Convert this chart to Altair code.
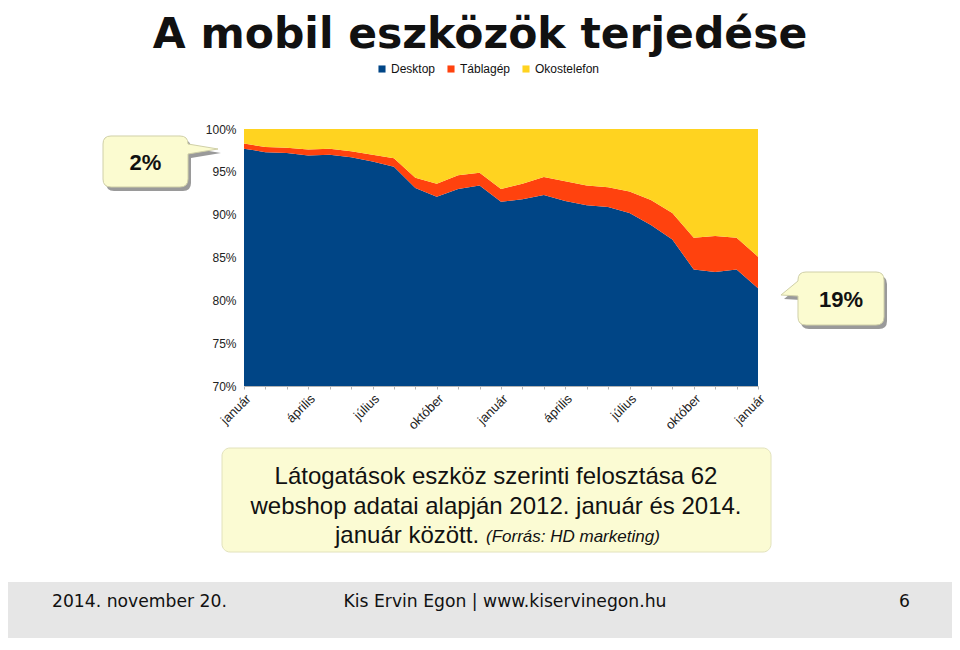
import altair as alt
import pandas as pd

# ---------------- data ----------------
month_names = ["január", "február", "március", "április", "május", "június",
               "július", "augusztus", "szeptember", "október", "november", "december"]
months = month_names * 2 + ["január"]          # 2012-01 .. 2014-01
tick_every = 3
series = ["Desktop", "Táblagép", "Okostelefon"]
colors = ["#004586", "#ff420e", "#ffd320"]

desktop = [97.7, 97.3, 97.2, 96.9, 97.0, 96.7, 96.2, 95.6, 93.1, 92.1, 93.0, 93.4, 91.5,
           91.8, 92.3, 91.6, 91.1, 90.9, 90.2, 88.8, 87.1, 83.6, 83.3, 83.6, 81.4]
tablet = [0.6, 0.6, 0.6, 0.7, 0.7, 0.7, 0.8, 1.0, 1.2, 1.5, 1.6, 1.5, 1.5,
          1.8, 2.1, 2.3, 2.3, 2.3, 2.5, 2.9, 3.1, 3.7, 4.2, 3.7, 3.7]
smartphone = [1.7, 2.1, 2.2, 2.4, 2.3, 2.6, 3.0, 3.4, 5.7, 6.4, 5.4, 5.1, 7.0,
              6.4, 5.6, 6.1, 6.6, 6.8, 7.3, 8.3, 9.8, 12.7, 12.5, 12.7, 14.9]
y_ticks = [70, 75, 80, 85, 90, 95, 100]

title_text = "A mobil eszközök terjedése"
callout_left = "2%"
callout_right = "19%"
caption_lines = ["Látogatások eszköz szerinti felosztása 62",
                 "webshop adatai alapján 2012. január és 2014."]
caption_last = "január között."
caption_source = "(Forrás: HD marketing)"
footer_left = "2014. november 20."
footer_mid = "Kis Ervin Egon | www.kiservinegon.hu"
footer_right = "6"

rows = []
for i in range(len(months)):
    for k, (name, vals) in enumerate(zip(series, [desktop, tablet, smartphone])):
        rows.append({"idx": i, "month": months[i], "series": name, "value": vals[i], "ord": k})
df = pd.DataFrame(rows)

labels = [m if i % tick_every == 0 else "" for i, m in enumerate(months)]
label_expr = "[" + ",".join("'" + s + "'" for s in labels) + "][datum.value]"

# ---------------- layout (page coords -> plot coords) ----------------
OX, OY = 244, 129      # plot origin on page
W, H = 514, 257
TOTAL_W, TOTAL_H = 944, 630
PAD_L, PAD_T = OX - 8, OY - 8


def px(x):
    return x - OX


def py(y):
    return y - OY


one = alt.Data(values=[{"a": 1}])


def callout_path(box, r, base, tip, side, center, half):
    x0, y0, x1, y1 = box
    cx, cy = center
    f = lambda x, y: f"{(x - cx) / half:.4f},{(y - cy) / half:.4f}"
    b0, b1 = base
    if side == "right":
        d = (f"M{f(x0 + r, y0)} L{f(x1 - r, y0)} Q{f(x1, y0)} {f(x1, y0 + r)} "
             f"L{f(x1, b0)} L{f(*tip)} L{f(x1, b1)} L{f(x1, y1 - r)} Q{f(x1, y1)} {f(x1 - r, y1)} "
             f"L{f(x0 + r, y1)} Q{f(x0, y1)} {f(x0, y1 - r)} L{f(x0, y0 + r)} Q{f(x0, y0)} {f(x0 + r, y0)} Z")
    else:
        d = (f"M{f(x0 + r, y0)} L{f(x1 - r, y0)} Q{f(x1, y0)} {f(x1, y0 + r)} "
             f"L{f(x1, y1 - r)} Q{f(x1, y1)} {f(x1 - r, y1)} L{f(x0 + r, y1)} Q{f(x0, y1)} {f(x0, y1 - r)} "
             f"L{f(x0, b1)} L{f(*tip)} L{f(x0, b0)} L{f(x0, y0 + r)} Q{f(x0, y0)} {f(x0 + r, y0)} Z")
    return d


def callout_layers(box, base, tip, side, center, half, text):
    path = callout_path(box, 8, base, tip, side, center, half)
    size = (2 * half) ** 2
    cx, cy = center
    shadow = alt.Chart(one).mark_point(shape=path, filled=True, fill="#9a9a9a", opacity=1,
                                       size=size, strokeWidth=0).encode(
        x=alt.value(px(cx + 3)), y=alt.value(py(cy + 4)))
    body = alt.Chart(one).mark_point(shape=path, filled=True, fill="#fbfbd0", opacity=1,
                                     size=size, stroke="#d0d0a8", strokeWidth=1).encode(
        x=alt.value(px(cx)), y=alt.value(py(cy)))
    bx = (box[0] + box[2]) / 2
    by = (box[1] + box[3]) / 2
    txt = alt.Chart(one).mark_text(fontSize=22, fontWeight="bold", color="#111",
                                   baseline="middle", align="center").encode(
        x=alt.value(px(bx)), y=alt.value(py(by + 1)), text=alt.value(text))
    return [shadow, body, txt]


# ---------------- main area chart ----------------
area = alt.Chart(df).mark_area(clip=True, interpolate="linear").encode(
    x=alt.X("idx:Q", scale=alt.Scale(domain=[0, len(months) - 1], nice=False, zero=False),
            axis=alt.Axis(title=None, values=list(range(len(months))), labelExpr=label_expr,
                          labelAngle=-45, labelAlign="right", labelBaseline="top",
                          labelFontSize=13, labelColor="#222", labelOverlap=False,
                          labelPadding=3, tickSize=3, tickColor="#b3b3b3",
                          domainColor="#b3b3b3", grid=False)),
    y=alt.Y("value:Q", stack="zero",
            scale=alt.Scale(domain=[70, 100], nice=False, zero=False),
            axis=alt.Axis(title=None, values=y_ticks, labelExpr="datum.value + '%'",
                          labelFontSize=12, labelColor="#222", domain=False, ticks=False,
                          labelPadding=8, grid=False)),
    color=alt.Color("series:N", scale=alt.Scale(domain=series, range=colors),
                    legend=alt.Legend(orient="none", legendX=px(376), legendY=py(63),
                                      direction="horizontal", title=None,
                                      symbolType="square", symbolSize=50,
                                      symbolStrokeWidth=0, labelFontSize=12,
                                      labelColor="#111", columnPadding=9,
                                      symbolOffset=0, labelOffset=3)),
    order=alt.Order("ord:Q"),
)

title = alt.Chart(one).mark_text(font="DejaVu Sans", fontSize=42.5, fontWeight="bold",
                                 color="#111", align="center", baseline="alphabetic").encode(
    x=alt.value(px(480)), y=alt.value(py(48)), text=alt.value(title_text))

left_callout = callout_layers((103, 136, 188, 187), (144, 154), (218, 149), "right",
                              (160, 161), 60, callout_left)
right_callout = callout_layers((798, 272, 884, 325), (281, 296), (781, 295), "left",
                               (833, 298), 55, callout_right)

caption_box = alt.Chart(one).mark_rect(fill="#fbfbd3", stroke="#e2e2bc", strokeWidth=1,
                                       cornerRadius=8).encode(
    x=alt.value(px(222)), x2=alt.value(px(771)), y=alt.value(py(448)), y2=alt.value(py(552)))

cap_layers = []
for j, line in enumerate(caption_lines):
    cap_layers.append(alt.Chart(one).mark_text(fontSize=24, color="#111", align="center",
                                               baseline="alphabetic").encode(
        x=alt.value(px(496)), y=alt.value(py(484 + 29.5 * j)), text=alt.value(line)))
cap_layers.append(alt.Chart(one).mark_text(fontSize=24, color="#111", align="left",
                                           baseline="alphabetic").encode(
    x=alt.value(px(335)), y=alt.value(py(543)), text=alt.value(caption_last)))
cap_layers.append(alt.Chart(one).mark_text(fontSize=17, fontStyle="italic", color="#111",
                                           align="left", baseline="alphabetic").encode(
    x=alt.value(px(486)), y=alt.value(py(542)), text=alt.value(caption_source)))

footer_band = alt.Chart(one).mark_rect(fill="#e6e6e6").encode(
    x=alt.value(px(8)), x2=alt.value(px(8 + TOTAL_W)), y=alt.value(py(582)),
    y2=alt.value(py(8 + TOTAL_H)))
footer_texts = []
for txt, x, al in [(footer_left, 52, "left"), (footer_mid, 505, "center"), (footer_right, 910, "right")]:
    footer_texts.append(alt.Chart(one).mark_text(font="DejaVu Sans", fontSize=17.2, color="#111",
                                                 align=al, baseline="middle").encode(
        x=alt.value(px(x)), y=alt.value(py(602)), text=alt.value(txt)))

chart = alt.layer(
    footer_band, *footer_texts, caption_box, *cap_layers, title,
    *left_callout, *right_callout, area,
).properties(
    width=W, height=H, autosize="none",
    padding={"left": PAD_L, "top": PAD_T, "right": TOTAL_W - PAD_L - W,
             "bottom": TOTAL_H - PAD_T - H},
).configure(font="Liberation Sans", background="white").configure_view(stroke=None)

chart.save("out.html", embed_options={"renderer": "svg", "actions": False})
